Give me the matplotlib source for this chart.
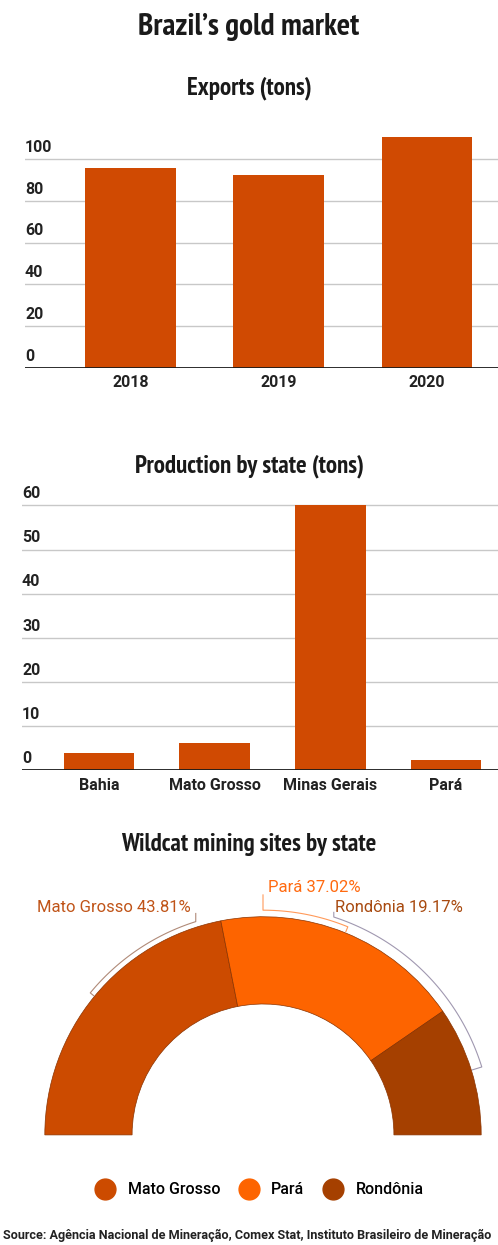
import matplotlib.pyplot as plt
from matplotlib.lines import Line2D
import numpy as np

# Data
export_years = ["2018", "2019", "2020"]
export_tons = [95.7, 92.3, 110.5]
export_ticks = [0, 20, 40, 60, 80, 100]

prod_states = ["Bahia", "Mato Grosso", "Minas Gerais", "Pará"]
prod_tons = [3.9, 6.1, 60.2, 2.3]
prod_ticks = [0, 10, 20, 30, 40, 50, 60]

site_states = ["Mato Grosso", "Pará", "Rondônia"]
site_share = [43.81, 37.02, 19.17]

BAR = "#d04a02"
site_colors = ["#cc4b00", "#fd6400", "#a54000"]
label_colors = ["#c05418", "#ff6a10", "#a84a10"]
leader_colors = ["#b08a78", "#ff9a5a", "#a098b0"]

TITLE_FONT = ["PT Sans Narrow", "Roboto Condensed", "Archivo Narrow", "DejaVu Sans"]
BODY_FONT = ["Roboto", "DejaVu Sans"]

W, H = 498, 1245
fig = plt.figure(figsize=(W / 100, H / 100), dpi=100)


def px_rect(left, top, right, bottom):
    return [left / W, 1 - bottom / H, (right - left) / W, (bottom - top) / H]


def bar_panel(ax, cats, vals, ticks, xlim, ylim, width, pad):
    ax.bar(range(len(cats)), vals, width=width, color=BAR, zorder=2)
    ax.set_xlim(*xlim)
    ax.set_ylim(*ylim)
    ax.set_axisbelow(True)
    ax.set_yticks(ticks)
    ax.yaxis.grid(True, color="#c8c8c8", lw=1)
    ax.tick_params(axis="y", length=0, labelleft=False)
    ax.set_xticks(range(len(cats)), cats)
    ax.tick_params(axis="x", length=0, pad=pad)
    for lbl in ax.get_xticklabels():
        lbl.set_fontfamily(BODY_FONT)
        lbl.set_fontweight("bold")
        lbl.set_fontsize(11.5)
        lbl.set_color("#222222")
    for s in ax.spines.values():
        s.set_visible(False)
    ax.axhline(0, color="#1a1a1a", lw=2, zorder=3)
    for t in ticks:
        ax.annotate(str(t), xy=(0, t), xycoords=("axes fraction", "data"),
                    xytext=(0, 3), textcoords="offset points", ha="left", va="bottom",
                    fontsize=11.5, fontweight="bold", family=BODY_FONT, color="#222222")


# Titles
fig.text(0.5, 1 - 27 / H, "Brazil’s gold market", ha="center", va="center",
         fontsize=22.5, fontweight="bold", family=TITLE_FONT, color="#1a1a1a")
fig.text(0.5, 1 - 88 / H, "Exports (tons)", ha="center", va="center",
         fontsize=18, fontweight="bold", family=TITLE_FONT, color="#1a1a1a")
fig.text(0.5, 1 - 466 / H, "Production by state (tons)", ha="center", va="center",
         fontsize=18, fontweight="bold", family=TITLE_FONT, color="#1a1a1a")
fig.text(0.5, 1 - 845 / H, "Wildcat mining sites by state", ha="center", va="center",
         fontsize=18, fontweight="bold", family=TITLE_FONT, color="#1a1a1a")

# Exports
ax1 = fig.add_axes(px_rect(25, 134, 498, 368))
bar_panel(ax1, export_years, export_tons, export_ticks, (-0.71, 2.48), (0, 112), 0.61, 5)

# Production by state
ax2 = fig.add_axes(px_rect(22, 501, 498, 770))
bar_panel(ax2, prod_states, prod_tons, prod_ticks, (-0.667, 3.45), (0, 61), 0.61, 6)

# Wildcat mining sites: half donut
ax3 = fig.add_axes(px_rect(23, 873, 503, 1135))
total = sum(site_share)
wedges, _ = ax3.pie(site_share + [total], startangle=180, counterclock=False,
                    colors=site_colors + ["none"], radius=1,
                    wedgeprops=dict(width=0.4, edgecolor="#8a3300", linewidth=0.5))
wedges[-1].set_visible(False)
ax3.set_xlim(-1.1, 1.1)
ax3.set_ylim(0, 1.2)
ax3.axis("off")

# labels with curved leader lines
label_pos = [(-0.33, 1.041), (0.023, 1.133), (0.33, 1.041)]
label_ha = ["right", "left", "left"]
leader_r = [1.025, 1.03, 1.05]
leader_end = [107.5, 90, 72]
leader_top = [1.015, 1.10, 1.02]
start = 180.0
for i, share in enumerate(site_share):
    span = share / total * 180
    mid = start - span / 2
    start -= span
    ang = np.radians(np.linspace(mid, leader_end[i], 60))
    r = leader_r[i]
    xs = np.concatenate([[1.005 * np.cos(ang[0])], r * np.cos(ang), [r * np.cos(ang[-1])]])
    ys = np.concatenate([[1.005 * np.sin(ang[0])], r * np.sin(ang), [leader_top[i]]])
    ax3.plot(xs, ys, color=leader_colors[i], lw=0.8, clip_on=False)
    ax3.text(label_pos[i][0], label_pos[i][1], f"{site_states[i]} {share:.2f}%",
             ha=label_ha[i], va="center", fontsize=12, family=BODY_FONT,
             color=label_colors[i], clip_on=False)

handles = [Line2D([], [], marker="o", ls="", color=c, markersize=15) for c in site_colors]
fig.legend(handles, site_states, loc="center", bbox_to_anchor=(0.515, 1 - 1190 / H),
           ncol=3, frameon=False, handletextpad=0.4, columnspacing=0.8,
           prop=dict(family=BODY_FONT, size=11.5, weight="medium"))

# source line, sized to stay inside the figure
fig.text(3 / W, 1 - 1235 / H,
         "Source: Agência Nacional de Mineração, Comex Stat, Instituto Brasileiro de Mineração",
         ha="left", va="center", fontsize=9.1, fontweight="bold", family=BODY_FONT,
         color="#222222")

fig.savefig("out.png", dpi=100)
